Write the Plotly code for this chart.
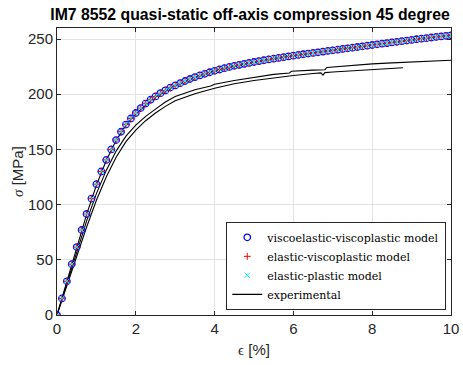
import plotly.graph_objects as go

# ---- data ----
model_strain = [0, 0.125, 0.25, 0.375, 0.5, 0.625, 0.75, 0.875, 1.0, 1.125, 1.25, 1.375, 1.5,
                1.625, 1.75, 1.875, 2.0, 2.125, 2.25, 2.375, 2.5, 2.625, 2.75, 2.875, 3.0,
                3.125, 3.25, 3.375, 3.5, 3.625, 3.75, 3.875, 4.0, 4.125, 4.25, 4.375, 4.5,
                4.625, 4.75, 4.875, 5.0, 5.125, 5.25, 5.375, 5.5, 5.625, 5.75, 5.875, 6.0,
                6.125, 6.25, 6.375, 6.5, 6.625, 6.75, 6.875, 7.0, 7.125, 7.25, 7.375, 7.5,
                7.625, 7.75, 7.875, 8.0, 8.125, 8.25, 8.375, 8.5, 8.625, 8.75, 8.875, 9.0,
                9.125, 9.25, 9.375, 9.5, 9.625, 9.75, 9.875, 10.0]
model_stress = [0, 15, 30.5, 46, 61.5, 77, 91.5, 105.5, 118.5, 130, 140.5, 150, 158.5,
                166, 172.5, 178, 183, 187.5, 191.5, 195, 198, 201, 203.5, 206, 208,
                210, 212, 213.8, 215.5, 217, 218.5, 219.9, 221.2, 222.4, 223.6, 224.7, 225.7,
                226.6, 227.5, 228.4, 229.2, 230, 230.8, 231.5, 232.2, 232.9, 233.6, 234.3, 234.9,
                235.6, 236.2, 236.8, 237.4, 238, 238.6, 239.2, 239.8, 240.4, 241, 241.6, 242.2,
                242.8, 243.4, 244, 244.6, 245.2, 245.8, 246.3, 246.9, 247.5, 248.1, 248.6, 249.2,
                249.8, 250.3, 250.8, 251.4, 251.9, 252.4, 252.9, 253.4]
vevp_stress = list(model_stress)
evp_stress = list(model_stress)
ep_stress = list(model_stress)

exp1_strain = [0, 0.25, 0.5, 0.75, 1.0, 1.25, 1.5, 1.75, 2.0, 2.5, 3.0, 3.5, 4.0, 4.5,
               5.0, 5.5, 5.7, 5.75, 6.0, 6.5, 7.0, 7.4]
exp1_stress = [0, 30, 61, 91, 117.5, 140, 158, 172, 182.5, 197.5, 207.5, 215, 220.5, 225,
               228.8, 231.8, 233, 234.3, 234.6, 237.5, 240.3, 242.2]

exp2_strain = [0, 0.25, 0.5, 0.75, 1.0, 1.25, 1.5, 1.75, 2.0, 2.25, 2.5, 2.75, 3.0, 3.5,
               3.9, 4.0, 4.5, 5.0, 5.5, 5.9, 5.95, 6.5, 6.8, 6.85, 7.0, 7.5, 8.0, 8.5,
               9.0, 9.5, 10.0]
exp2_stress = [0, 28.5, 57, 85, 110, 131, 148.5, 162, 172, 180, 186.5, 193, 198, 204,
               207.5, 209, 212.5, 215.5, 218, 219.3, 220.8, 221.8, 222.2, 224.3, 224.8, 226.4, 227.5, 228.4,
               229.2, 230, 230.8]

exp3_strain = [0, 0.25, 0.5, 0.75, 1.0, 1.25, 1.5, 1.75, 2.0, 2.25, 2.5, 2.75, 3.0, 3.5,
               4.0, 4.5, 5.0, 5.5, 6.0, 6.5, 6.7, 6.75, 6.8, 7.0, 7.5, 8.0, 8.5, 8.78]
exp3_stress = [0, 27, 53.5, 79.5, 104, 125, 143, 157, 167.5, 176, 183, 189, 194, 200.5,
               205.5, 209.5, 212.5, 215, 217, 218.8, 219.3, 217.3, 219.6, 220.2, 221.4, 222.4,
               223.3, 224]

x_ticks = [0, 2, 4, 6, 8, 10]
y_ticks = [0, 50, 100, 150, 200, 250]

title_text = "IM7 8552 quasi-static off-axis compression 45 degree"
legend_names = ["viscoelastic-viscoplastic model", "elastic-viscoplastic model",
                "elastic-plastic model", "experimental"]

# ---- figure ----
fig = go.Figure()

exp_sets = [(exp1_strain, exp1_stress), (exp2_strain, exp2_stress), (exp3_strain, exp3_stress)]
for i, (xs, ys) in enumerate(exp_sets):
    fig.add_trace(go.Scatter(
        x=xs, y=ys, mode="lines", line=dict(color="black", width=1.1),
        name=legend_names[3], showlegend=(i == 0), legendrank=4,
    ))

fig.add_trace(go.Scatter(
    x=model_strain, y=vevp_stress, mode="markers", name=legend_names[0], legendrank=1,
    marker=dict(symbol="circle-open", size=6.5, color="blue", line=dict(width=1.3, color="blue")),
))
fig.add_trace(go.Scatter(
    x=model_strain, y=evp_stress, mode="markers", name=legend_names[1], legendrank=2,
    marker=dict(symbol="cross-thin-open", size=5, color="red", line=dict(width=1, color="red")),
))
fig.add_trace(go.Scatter(
    x=model_strain, y=ep_stress, mode="markers", name=legend_names[2], legendrank=3,
    marker=dict(symbol="x-thin-open", size=5, color="cyan", line=dict(width=1, color="cyan")),
))

axis_common = dict(
    showline=True, linecolor="#262626", linewidth=1, mirror="ticks",
    ticks="inside", ticklen=4, tickcolor="#262626", automargin=False,
    showgrid=True, gridcolor="#e3e3e3", gridwidth=1, zeroline=False,
    tickfont=dict(family="Liberation Sans, Arial", size=15, color="#262626"),
)

fig.update_layout(
    width=463, height=365,
    margin=dict(l=57, r=12, t=28, b=50),
    paper_bgcolor="white", plot_bgcolor="white",
    title=dict(text="<b>" + title_text + "</b>", x=0.54, xanchor="center", y=0.975, yanchor="top",
               font=dict(family="Liberation Sans, Arial", size=15.8, color="black"),
               automargin=False),
    xaxis=dict(range=[0, 10], tickvals=x_ticks, **axis_common,
               title=dict(text="<span style='font-family:Liberation Serif'>ϵ</span> [%]", standoff=8,
                          font=dict(family="Liberation Sans, Arial", size=15, color="#262626"))),
    yaxis=dict(range=[0, 260], tickvals=y_ticks, **axis_common,
               title=dict(text="<span style='font-family:Liberation Serif'><i>σ</i></span> [MPa]", standoff=0,
                          font=dict(family="Liberation Sans, Arial", size=15, color="#262626"))),
    legend=dict(x=0.988, y=0.018, xanchor="right", yanchor="bottom",
                bgcolor="white", bordercolor="#262626", borderwidth=1,
                font=dict(family="DejaVu Serif, Liberation Serif", size=11, color="black"),
                tracegroupgap=0, itemwidth=30),
    showlegend=True,
)

fig.write_html("out.html")
